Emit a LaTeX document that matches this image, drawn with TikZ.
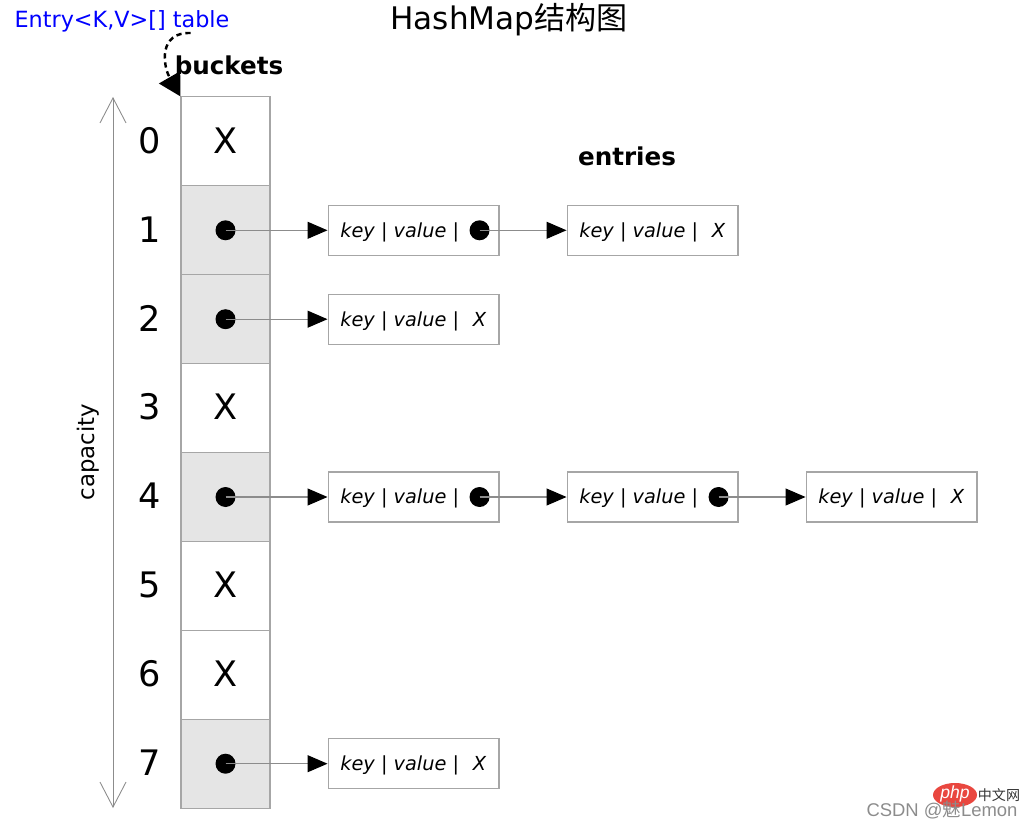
\documentclass[tikz,border=0pt]{standalone}
\usepackage{fontspec}
\setmainfont{DejaVu Sans}
\newfontfamily\cjk{Noto Sans CJK SC}
\newfontfamily\wmfont{Liberation Sans}
\usetikzlibrary{arrows.meta,positioning}
\definecolor{shade}{HTML}{E5E5E5}
\definecolor{edge}{HTML}{A6A6A6}
\definecolor{wire}{HTML}{8C8C8C}
\definecolor{phpred}{HTML}{E9473F}

\begin{document}
\begin{tikzpicture}[x=0.02cm,y=-0.02cm,
  bucket/.style={draw=edge,line width=0.6pt,minimum width=1.78cm,minimum height=1.778cm,inner sep=0pt},
  entry/.style={draw=edge,line width=0.6pt,minimum width=3.42cm,minimum height=1cm,inner sep=0pt},
  dot/.style={circle,fill=black,minimum size=0.4cm,inner sep=0pt},
  big/.style={font=\fontsize{20}{24}\selectfont},
  kv/.style={font=\fontsize{11}{13}\selectfont\itshape,inner sep=0pt,text height=0.8em,text depth=0.25em},
  link/.style={draw=wire,line width=0.6pt,-{Triangle[length=0.4cm,width=0.34cm,fill=black,color=black]}},
  capline/.style={draw=wire,line width=0.5pt,{Straight Barb[length=0.5cm,width=0.52cm]}-{Straight Barb[length=0.5cm,width=0.52cm]}}]
  \useasboundingbox (0,0) rectangle (1031,828);

  % title and labels
  \node[font=\fontsize{17.7}{20}\selectfont] (title) at (509,20) {HashMap{\cjk 结构图}};
  \node[text=blue,font=\fontsize{12.7}{15}\selectfont] (tbl) at (122,21) {Entry<K,V>[] table};
  \node[font=\bfseries\fontsize{14}{16}\selectfont] (bk) at (229,65) {buckets};
  \node[font=\bfseries\fontsize{14}{16}\selectfont] (en) at (627,156) {entries};

  % buckets
  \foreach \i/\c in {0/white,1/shade,2/shade,3/white,4/shade,5/white,6/white,7/shade}{
    \node[bucket,fill=\c] (b\i) at (225.5,141.4+88.9*\i) {};
    \node[big] (n\i) at ([xshift=-1.52cm,yshift=0.02cm]b\i.center) {\i};
  }
  \foreach \i in {0,3,5,6} \node[big] (x\i) at ([yshift=0.02cm]b\i.center) {X};
  \foreach \i in {1,2,4,7} \node[dot] (d\i) at (b\i) {};

  % capacity
  \coordinate (ctop) at (113,97);
  \coordinate (cbot) at (113,808);
  \draw[capline] (ctop) -- (cbot);
  \node[rotate=90,font=\fontsize{13}{15}\selectfont] (capl) at (88,452) {capacity};

  % entries
  \node[entry,right=1.14cm of b1] (e11) {};
  \node[entry,right=1.34cm of e11] (e12) {};
  \node[entry,right=1.14cm of b2] (e21) {};
  \node[entry,right=1.14cm of b4] (e41) {};
  \node[entry,right=1.34cm of e41] (e42) {};
  \node[entry,right=1.34cm of e42] (e43) {};
  \node[entry,right=1.14cm of b7] (e71) {};
  \foreach \e in {e11,e12,e21,e41,e42,e43,e71}
    \node[kv,anchor=west] (\e-t) at ([xshift=0.25cm,yshift=-0.04cm]\e.west) {key | value |};
  \foreach \e in {e11,e41,e42} \node[dot] (\e-p) at ([xshift=-0.4cm]\e.east) {};
  \foreach \e in {e12,e21,e43,e71} \node[kv] (\e-p) at ([xshift=-0.4cm,yshift=-0.04cm]\e.east) {X};

  % links
  \foreach \r in {1,2,4,7} \draw[link] (d\r.center) -- (e\r1);
  \draw[link] (e11-p.center) -- (e12);
  \draw[link] (e41-p.center) -- (e42);
  \draw[link] (e42-p.center) -- (e43);

  % table -> buckets
  \draw[line width=1.4pt,dash pattern=on 3pt off 2.2pt,-{Triangle[length=0.44cm,width=0.48cm]}]
    ([xshift=-0.9cm,yshift=0.1cm]tbl.south east) .. controls (158,32) and (163,66) .. (b0.north west);

  % watermark
  \fill[phpred] (955,795) ellipse (0.44cm and 0.24cm);
  \node[text=white,font=\wmfont\itshape\fontsize{10}{12}\selectfont] (php) at (955,794) {php};
  \node[text=black!80,font=\cjk\fontsize{8}{10}\selectfont] (cn) at (999,795) {中文网};
  \node[text=black!45,font=\wmfont\fontsize{10.5}{12}\selectfont] (csdn) at (942,810) {CSDN @{\cjk 魅}Lemon};
\end{tikzpicture}
\end{document}
